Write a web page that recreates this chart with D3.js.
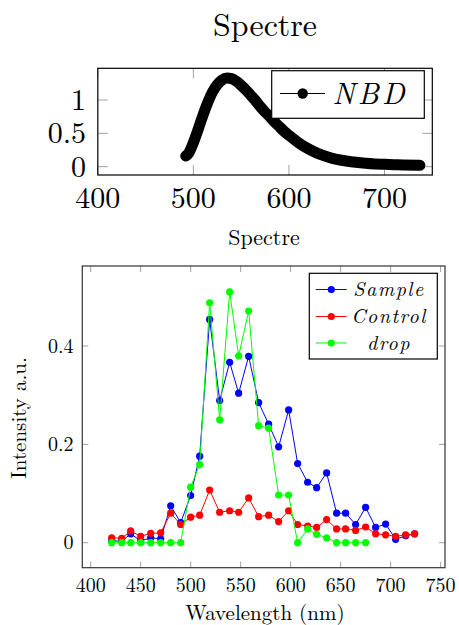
<!DOCTYPE html>
<html><head><meta charset="utf-8">
<script src="https://cdn.jsdelivr.net/npm/d3@7"></script>
<style>body{margin:0;background:#fff}svg{display:block}</style>
</head><body>
<script>
// ---- data ----
const nbdX = [492,495,500,505,510,515,520,525,530,535,540,545,550,555,560,565,570,575,580,585,590,595,600,610,620,630,640,650,660,670,680,690,700,710,720,737];
const nbdY = [0.16,0.20,0.36,0.56,0.77,0.96,1.12,1.23,1.30,1.33,1.32,1.28,1.22,1.15,1.07,0.99,0.90,0.82,0.75,0.67,0.60,0.53,0.47,0.36,0.27,0.20,0.15,0.11,0.085,0.065,0.05,0.04,0.035,0.03,0.025,0.02];
const topXTicks = [400,500,600,700];
const topYTicks = [0,0.5,1];

const wl = [421,431,440,450,460,470,480,490,500,509,519,529,539,548,558,568,578,588,598,607,617,626,636,646,655,665,675,685,695,705,715,724];
const sample = [0.004,0.003,0.018,0.004,0.010,0.008,0.075,0.041,0.096,0.176,0.454,0.289,0.367,0.304,0.379,0.285,0.241,0.195,0.270,0.161,0.123,0.112,0.142,0.060,0.060,0.037,0.072,0.031,0.038,0.007,0.014,0.018];
const control = [0.010,0.009,0.024,0.013,0.019,0.020,0.060,0.037,0.052,0.056,0.107,0.062,0.065,0.062,0.091,0.053,0.056,0.043,0.065,0.037,0.034,0.031,0.047,0.028,0.028,0.025,0.032,0.018,0.016,0.013,0.016,0.018];
const drop = [0,0,0,0,0,0,0,0,0.113,0.159,0.488,0.250,0.510,0.380,0.471,0.238,0.233,0.097,0.097,0,0.028,0.017,0.010,0,0,0,0];
const seriesNames = ["Sample","Control","drop"];
const seriesColors = ["#0000ff","#ff0000","#00ff00"];
const botXTicks = [400,450,500,550,600,650,700,750];
const botYTicks = [0,0.2,0.4];

const W = 459, H = 625;
const svg = d3.select("body").append("svg").attr("width", W).attr("height", H)
  .attr("font-family", '"Latin Modern Roman","CMU Serif","Liberation Serif"').attr("fill", "#000");

function frameAxes(g, x, y, xt, yt, tl) {
  const [x0, x1] = x.range(), [y0, y1] = y.range();
  const tc = "#a0a0a0";
  xt.forEach(v => {
    g.append("line").attr("x1", x(v)).attr("x2", x(v)).attr("y1", y0).attr("y2", y0 - tl).attr("stroke", tc);
    g.append("line").attr("x1", x(v)).attr("x2", x(v)).attr("y1", y1).attr("y2", y1 + tl).attr("stroke", tc);
  });
  yt.forEach(v => {
    g.append("line").attr("x1", x0).attr("x2", x0 + tl).attr("y1", y(v)).attr("y2", y(v)).attr("stroke", tc);
    g.append("line").attr("x1", x1).attr("x2", x1 - tl).attr("y1", y(v)).attr("y2", y(v)).attr("stroke", tc);
  });
}

// ---------- top chart ----------
const tx = d3.scaleLinear().domain([400, 750]).range([97.8, 432.3]);
const ty = d3.scaleLinear().domain([-0.125, 1.475]).range([175, 68.3]);
const gt = svg.append("g");
frameAxes(gt, tx, ty, topXTicks, topYTicks, 10);
gt.append("path").datum(nbdX.map((v, i) => [v, nbdY[i]]))
  .attr("d", d3.line().x(d => tx(d[0])).y(d => ty(d[1])).curve(d3.curveMonotoneX))
  .attr("fill", "none").attr("stroke", "#000").attr("stroke-width", 11)
  .attr("stroke-linecap", "round").attr("stroke-linejoin", "round");
gt.append("rect").attr("x", 97.8).attr("y", 68.3).attr("width", 432.3 - 97.8).attr("height", 175 - 68.3)
  .attr("fill", "none").attr("stroke", "#000").attr("stroke-width", 1.2);
topXTicks.forEach(v => gt.append("text").attr("x", tx(v)).attr("y", 208).attr("text-anchor", "middle")
  .attr("font-size", 30).text(v));
topYTicks.forEach(v => gt.append("text").attr("x", 86).attr("y", ty(v)).attr("dy", "0.33em").attr("text-anchor", "end")
  .attr("font-size", 30).text(v));
// legend
gt.append("rect").attr("x", 271.7).attr("y", 70.7).attr("width", 152.6).attr("height", 47.6)
  .attr("fill", "#fff").attr("stroke", "#000").attr("stroke-width", 1.2);
gt.append("line").attr("x1", 280).attr("x2", 325).attr("y1", 93.5).attr("y2", 93.5).attr("stroke", "#000").attr("stroke-width", 1);
gt.append("circle").attr("cx", 302.7).attr("cy", 93.5).attr("r", 5.2).attr("fill", "#000");
gt.append("text").attr("x", 370).attr("y", 103.5).attr("text-anchor", "middle").attr("font-size", 30)
  .attr("font-style", "italic").attr("letter-spacing", 3).text("NBD");
svg.append("text").attr("x", 265).attr("y", 36).attr("text-anchor", "middle").attr("font-size", 32).text("Spectre");
svg.append("text").attr("x", 264).attr("y", 245).attr("text-anchor", "middle").attr("font-size", 22).text("Spectre");

// ---------- bottom chart ----------
const bx = d3.scaleLinear().domain([391.6, 754.4]).range([82.3, 445]);
const by = d3.scaleLinear().domain([-0.0508, 0.5627]).range([567.7, 266]);
const gb = svg.append("g");
frameAxes(gb, bx, by, botXTicks, botYTicks, 6);
const seriesData = [sample, control, drop];
seriesData.forEach((vals, si) => {
  const pts = vals.map((v, i) => [wl[i], v]);
  gb.append("path").datum(pts).attr("d", d3.line().x(d => bx(d[0])).y(d => by(d[1])))
    .attr("fill", "none").attr("stroke", seriesColors[si]).attr("stroke-width", 1);
  gb.selectAll(null).data(pts).enter().append("circle")
    .attr("cx", d => bx(d[0])).attr("cy", d => by(d[1])).attr("r", 3.6).attr("fill", seriesColors[si]);
});
gb.append("rect").attr("x", 82.3).attr("y", 266).attr("width", 445 - 82.3).attr("height", 567.7 - 266)
  .attr("fill", "none").attr("stroke", "#333").attr("stroke-width", 1.2);
botXTicks.forEach(v => gb.append("text").attr("x", bx(v)).attr("y", 592).attr("text-anchor", "middle")
  .attr("font-size", 20).text(v));
botYTicks.forEach(v => gb.append("text").attr("x", 73.5).attr("y", by(v)).attr("dy", "0.33em").attr("text-anchor", "end")
  .attr("font-size", 20).text(v));
svg.append("text").attr("x", 265).attr("y", 620).attr("text-anchor", "middle").attr("font-size", 21).text("Wavelength (nm)");
svg.append("text").attr("transform", "translate(26,418) rotate(-90)").attr("text-anchor", "middle").attr("font-size", 21).text("Intensity a.u.");
// legend
gb.append("rect").attr("x", 309.3).attr("y", 273.3).attr("width", 128).attr("height", 85.7)
  .attr("fill", "#fff").attr("stroke", "#000").attr("stroke-width", 1.2);
const legY = [289.5, 316.5, 343];
seriesNames.forEach((n, i) => {
  gb.append("line").attr("x1", 315.7).attr("x2", 346.7).attr("y1", legY[i]).attr("y2", legY[i]).attr("stroke", seriesColors[i]).attr("stroke-width", 1);
  gb.append("circle").attr("cx", 331.3).attr("cy", legY[i]).attr("r", 3.6).attr("fill", seriesColors[i]);
  gb.append("text").attr("x", 389).attr("y", legY[i]).attr("dy", "0.33em").attr("text-anchor", "middle")
    .attr("font-size", 20).attr("font-style", "italic").attr("letter-spacing", 1.5).text(n);
});
</script>
</body></html>
